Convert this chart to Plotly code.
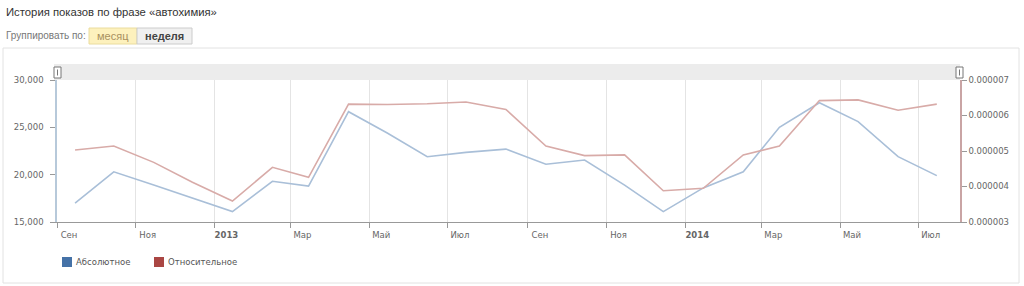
import plotly.graph_objects as go

# ---- data ----
months = ["2012-09-15", "2012-10-15", "2012-11-15", "2012-12-15", "2013-01-15", "2013-02-15",
          "2013-03-15", "2013-04-15", "2013-05-15", "2013-06-15", "2013-07-15", "2013-08-15",
          "2013-09-15", "2013-10-15", "2013-11-15", "2013-12-15", "2014-01-15", "2014-02-15",
          "2014-03-15", "2014-04-15", "2014-05-15", "2014-06-15", "2014-07-15"]
absolute = [17000, 20300, 18900, 17500, 16100, 19300, 18800, 26650, 24400, 21900, 22350, 22700,
            21100, 21550, 18900, 16100, 18600, 20300, 25000, 27600, 25600, 21900, 19900]
relative = [5.03e-6, 5.14e-6, 4.68e-6, 4.12e-6, 3.59e-6, 4.54e-6, 4.26e-6, 6.32e-6, 6.31e-6,
            6.33e-6, 6.38e-6, 6.17e-6, 5.14e-6, 4.87e-6, 4.89e-6, 3.88e-6, 3.95e-6, 4.89e-6,
            5.14e-6, 6.42e-6, 6.44e-6, 6.15e-6, 6.32e-6]
tick_dates = ["2012-09-01", "2012-11-01", "2013-01-01", "2013-03-01", "2013-05-01", "2013-07-01",
              "2013-09-01", "2013-11-01", "2014-01-01", "2014-03-01", "2014-05-01", "2014-07-01"]
tick_labels = ["Сен", "Ноя", "<b>2013</b>", "Мар", "Май", "Июл",
               "Сен", "Ноя", "<b>2014</b>", "Мар", "Май", "Июл"]
series_names = ["Абсолютное", "Относительное"]
title_text = "История показов по фразе «автохимия»"

W, H = 1024, 286
L, R, T, B = 57, 960, 80, 222  # plot area in px


def px(x):
    return (x - L) / (R - L)


def py(y):
    return (B - y) / (B - T)


line_blue = "#a9bfd8"
line_red = "#d8aba8"
leg_blue = "#4572a7"
leg_red = "#aa4643"
tickfont = dict(family="DejaVu Sans", size=8.5, color="#666666")

fig = go.Figure()
fig.add_trace(go.Scatter(x=months, y=absolute, mode="lines", name=series_names[0],
                         line=dict(color=line_blue, width=1.6), showlegend=False, yaxis="y"))
fig.add_trace(go.Scatter(x=months, y=relative, mode="lines", name=series_names[1],
                         line=dict(color=line_red, width=1.6), showlegend=False, yaxis="y2"))

shapes = []
# container border
shapes.append(dict(type="rect", xref="paper", yref="paper", x0=px(3), x1=px(1019),
                   y0=py(48), y1=py(283), line=dict(color="#e2e2e2", width=1),
                   fillcolor="rgba(0,0,0,0)", layer="below"))
# navigator band
shapes.append(dict(type="rect", xref="paper", yref="paper", x0=px(54), x1=px(960),
                   y0=py(80), y1=py(64), line=dict(width=0), fillcolor="#ececec", layer="below"))
for hx in (57.5, 959.5):
    shapes.append(dict(type="rect", xref="paper", yref="paper", x0=px(hx - 3.5), x1=px(hx + 3.5),
                       y0=py(78), y1=py(67), line=dict(color="#777777", width=1),
                       fillcolor="#ffffff"))
    shapes.append(dict(type="line", xref="paper", yref="paper", x0=px(hx), x1=px(hx),
                       y0=py(75.5), y1=py(69.5), line=dict(color="#777777", width=1)))
# buttons
shapes.append(dict(type="rect", xref="paper", yref="paper", x0=px(89), x1=px(137),
                   y0=py(44), y1=py(28), line=dict(color="#eadc9e", width=1), fillcolor="#fdf1bd"))
shapes.append(dict(type="rect", xref="paper", yref="paper", x0=px(137), x1=px(192),
                   y0=py(44), y1=py(28), line=dict(color="#cccccc", width=1), fillcolor="#f0f0f0"))

annotations = [
    dict(text=title_text, xref="paper", yref="paper", x=px(4), y=py(12), xanchor="left",
         yanchor="middle", showarrow=False,
         font=dict(family="Liberation Sans", size=11.3, color="#333333")),
    dict(text="Группировать по:", xref="paper", yref="paper", x=px(4), y=py(36), xanchor="left",
         yanchor="middle", showarrow=False,
         font=dict(family="Liberation Sans", size=10, color="#777777")),
    dict(text="месяц", xref="paper", yref="paper", x=px(113), y=py(36), xanchor="center",
         yanchor="middle", showarrow=False,
         font=dict(family="Liberation Sans", size=11, color="#a89060")),
    dict(text="<b>неделя</b>", xref="paper", yref="paper", x=px(164.5), y=py(36), xanchor="center",
         yanchor="middle", showarrow=False,
         font=dict(family="Liberation Sans", size=11, color="#444444")),
]

# legend (swatch + label)
legend_items = [(series_names[0], leg_blue, 62), (series_names[1], leg_red, 154)]
for name, col, lx in legend_items:
    shapes.append(dict(type="rect", xref="paper", yref="paper", x0=px(lx), x1=px(lx + 10),
                       y0=py(267), y1=py(257), line=dict(width=0), fillcolor=col))
    annotations.append(dict(text=name, xref="paper", yref="paper", x=px(lx + 12), y=py(262),
                            xanchor="left", yanchor="middle", showarrow=False,
                            font=dict(family="DejaVu Sans", size=8.5, color="#555555")))

fig.update_layout(
    width=W, height=H, autosize=False,
    margin=dict(l=L, r=W - R, t=T, b=H - B, pad=0),
    paper_bgcolor="white", plot_bgcolor="white",
    font=tickfont, showlegend=False,
    xaxis=dict(type="date", range=["2012-09-01", "2014-08-02"], tickmode="array",
               tickvals=tick_dates, ticktext=tick_labels, ticks="outside", ticklen=5,
               tickcolor="#999999", showline=True, linecolor="#999999", linewidth=1,
               showgrid=True, gridcolor="#e4e4e4", gridwidth=1, zeroline=False,
               ticklabelshift=12, tickfont=tickfont, fixedrange=True),
    yaxis=dict(range=[15000, 30000], tickvals=[15000, 20000, 25000, 30000], tickformat=",d",
               showgrid=False, zeroline=False, showline=True, linecolor="#b7c9da", linewidth=1.5,
               ticks="outside", ticklen=5, tickcolor="#999999", tickfont=tickfont,
               ticklabelstandoff=5),
    yaxis2=dict(range=[3e-6, 7e-6], tickvals=[3e-6, 4e-6, 5e-6, 6e-6, 7e-6], tickformat=".6f",
                overlaying="y", side="right", showgrid=False, zeroline=False, showline=True,
                linecolor="#c9a4a4", linewidth=1.5, ticks="outside", ticklen=5,
                tickcolor="#999999", tickfont=tickfont),
    shapes=shapes, annotations=annotations,
)

fig.write_html("out.html")
